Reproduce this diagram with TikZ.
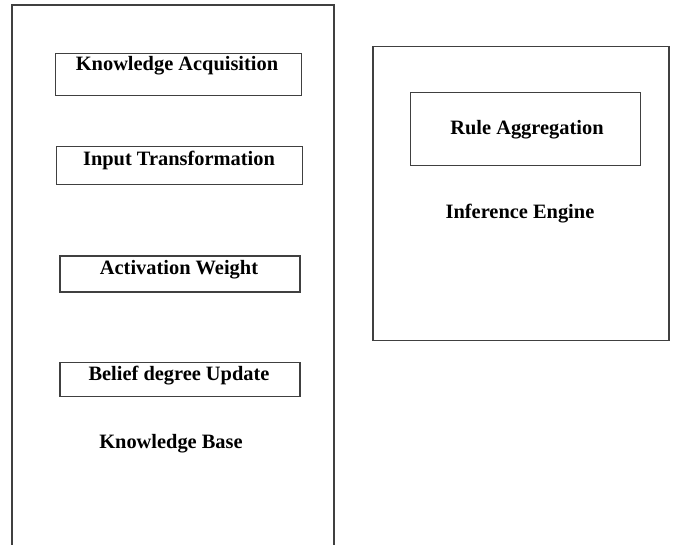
\documentclass[tikz,border=0pt]{standalone}
\usepackage{fontspec}
\setmainfont{Liberation Serif}
\usepackage{tikz}

\begin{document}
\begin{tikzpicture}[x=0.75pt, y=-0.75pt,
box/.style={draw=black!75, line width=0.8pt, inner sep=0pt},
lbl/.style={font=\fontsize{15.3}{17}\selectfont\bfseries, inner sep=0pt}]

\useasboundingbox (0,0) rectangle (676,545);

% Knowledge base (open at the bottom)
\draw[draw=black!75, line width=0.9pt] (12,545) -- (12,5) -- (334,5) -- (334,545);

\node[box, minimum width=184pt, minimum height=32pt] (acq) at (178.5,74.5) {};
\node[lbl] (acqtxt) at (177,66) {Knowledge Acquisition};

\node[box, minimum width=184pt, minimum height=28pt] (inp) at (179.5,165.5) {};
\node[lbl] (inptxt) at (179,160) {Input Transformation};

\node[box, minimum width=180pt, minimum height=27pt] (act) at (180,274) {};
\node[lbl] (acttxt) at (179,270) {Activation Weight};

\node[box, minimum width=180pt, minimum height=26pt] (bel) at (180,379.5) {};
\node[lbl] (beltxt) at (179,376) {Belief degree Update};

\node[lbl] (kb) at (171,444) {Knowledge Base};

% Inference engine
\node[box, minimum width=222pt, minimum height=221pt] (ie) at (521,193.5) {};
\node[box, minimum width=172pt, minimum height=55pt] (agg) at (525.5,129) {};
\node[lbl] (aggtxt) at (527,130) {Rule Aggregation};
\node[lbl] (ietxt) at (520,214) {Inference Engine};
\end{tikzpicture}
\end{document}
